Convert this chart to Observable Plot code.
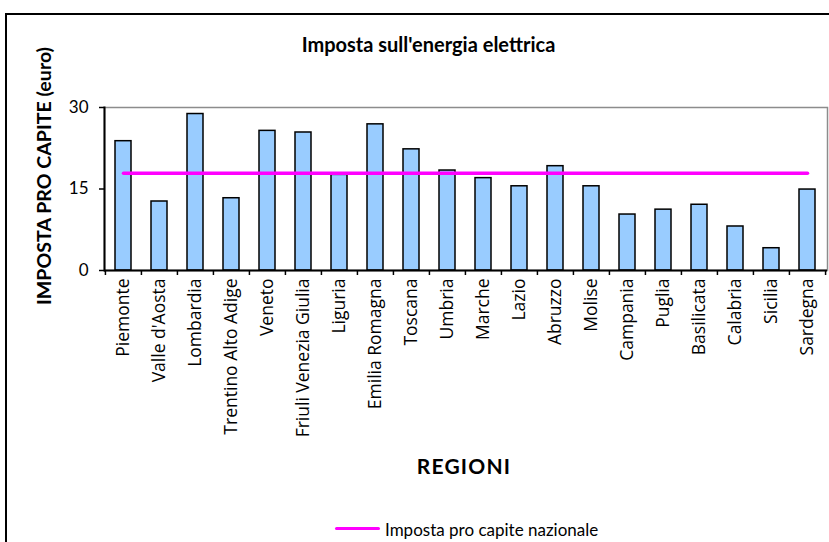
<!DOCTYPE html>
<html>
<head>
<meta charset="utf-8">
<script src="https://cdn.jsdelivr.net/npm/d3@7"></script>
<script src="https://cdn.jsdelivr.net/npm/@observablehq/plot@0.6"></script>
<style>
  html, body { margin: 0; padding: 0; background: #fff; }
  #wrap { position: relative; width: 829px; height: 542px; overflow: hidden; font-family: Lato, "Open Sans", sans-serif; color: #000; }
  #border { position: absolute; left: 5px; top: 13px; width: 900px; height: 700px; border: 2px solid #000; box-sizing: border-box; }
  #title { position: absolute; left: 0; width: 857px; top: 34px; line-height: 1; text-align: center; font-weight: bold; font-size: 20px; white-space: nowrap; }
  #ylab { position: absolute; left: 44px; top: 176px; line-height: 1; transform: translate(-50%, -50%) rotate(-90deg); white-space: nowrap; font-weight: bold; font-size: 19.6px; }
  #xlab { position: absolute; left: 464px; top: 455px; line-height: 1; transform: translateX(-50%); font-weight: bold; font-size: 21px; letter-spacing: 1.2px; white-space: nowrap; }
  #lsw { position: absolute; left: 335px; top: 527px; width: 45px; height: 3px; background: #FF00FF; border-radius: 2px; }
  #ltxt { position: absolute; left: 385px; top: 521px; line-height: 1; font-size: 17px; white-space: nowrap; }
  #chart { position: absolute; left: 0; top: 0; }
</style>
</head>
<body>
<div id="wrap">
  <div id="border"></div>
  <div id="chart"></div>
  <div id="title">Imposta sull'energia elettrica</div>
  <div id="ylab">IMPOSTA PRO CAPITE (euro)</div>
  <div id="xlab">REGIONI</div>
  <div id="lsw"></div><div id="ltxt">Imposta pro capite nazionale</div>
</div>
<script>
const regions = ["Piemonte", "Valle d'Aosta", "Lombardia", "Trentino Alto Adige", "Veneto", "Friuli Venezia Giulia", "Liguria", "Emilia Romagna", "Toscana", "Umbria", "Marche", "Lazio", "Abruzzo", "Molise", "Campania", "Puglia", "Basilicata", "Calabria", "Sicilia", "Sardegna"];
const values = [23.8, 12.7, 28.8, 13.3, 25.7, 25.4, 17.6, 26.9, 22.3, 18.4, 17.0, 15.5, 19.2, 15.5, 10.3, 11.2, 12.1, 8.1, 4.1, 14.9];
const nationalValue = 17.9;
const yTicks = [0, 15, 30];

const data = regions.map((r, i) => ({region: r, value: values[i]}));
const nationalLine = regions.map(r => ({region: r, value: nationalValue}));

const W = 829, H = 542, mL = 104, mR = 2, mT = 107, mB = 272;
const bw = (W - mL - mR) / regions.length;

const chart = Plot.plot({
  width: W,
  height: H,
  marginLeft: mL,
  marginRight: mR,
  marginTop: mT,
  marginBottom: mB,
  style: {fontFamily: "Lato, 'Open Sans', sans-serif", background: "transparent", color: "#000", overflow: "visible"},
  x: {domain: regions, paddingInner: 0.55, paddingOuter: 0.275, align: 0.5},
  y: {domain: [0, 30]},
  marks: [
    Plot.frame({stroke: "#8c8c8c", strokeWidth: 1.5}),
    Plot.barY(data, {x: "region", y: "value", fill: "#99CCFF", stroke: "#000", strokeWidth: 1.5}),
    Plot.lineY(nationalLine, {x: "region", y: "value", stroke: "#FF00FF", strokeWidth: 3.5}),
    Plot.ruleY([0], {stroke: "#000", strokeWidth: 2}),
    Plot.frame({anchor: "left", stroke: "#000", strokeWidth: 2}),
    Plot.ruleX(regions, {x: d => d, y1: 0, y2: 0, insetBottom: -5, dx: -bw / 2, stroke: "#000", strokeWidth: 1.5}),
    Plot.ruleX(regions.slice(-1), {x: d => d, y1: 0, y2: 0, insetBottom: -5, dx: bw / 2, stroke: "#000", strokeWidth: 1.5}),
    Plot.axisY({ticks: yTicks, tickSize: 5, tickPadding: 11, label: null, fontSize: 17, tickFormat: d => String(d), strokeWidth: 1.5}),
    Plot.axisX({tickSize: 0, tickPadding: 8, tickRotate: -90, label: null, fontSize: 17.5, fontFamily: "'Open Sans', Lato, sans-serif"})
  ]
});
document.getElementById("chart").appendChild(chart);
</script>
</body>
</html>
